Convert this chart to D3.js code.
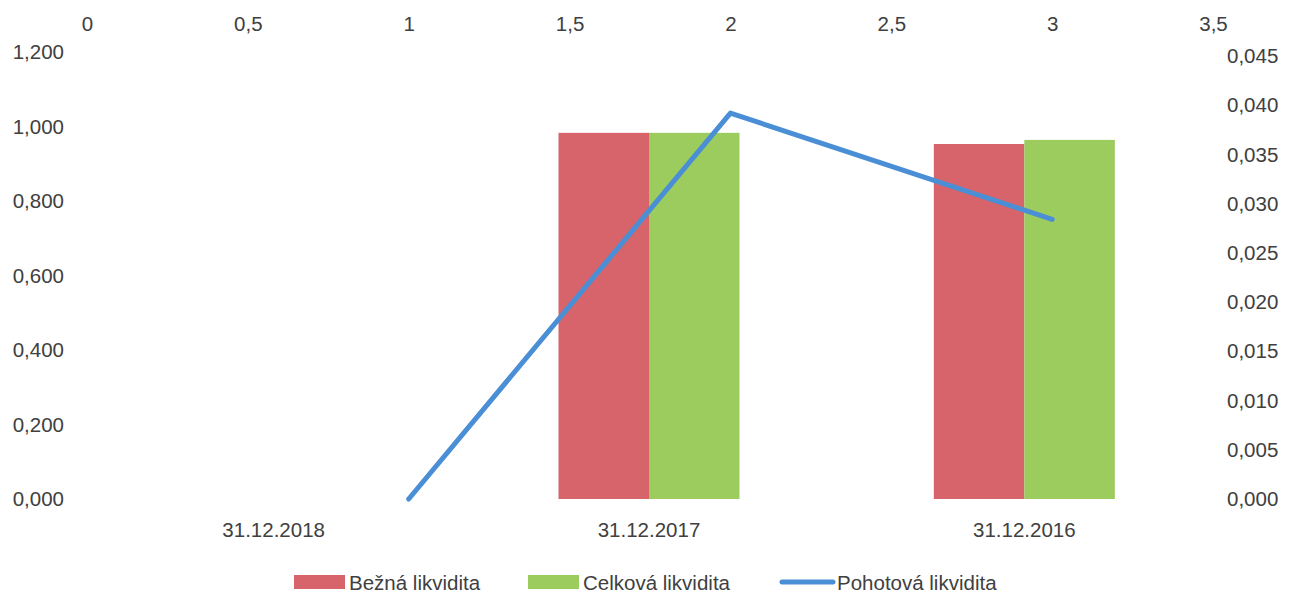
<!DOCTYPE html>
<html><head><meta charset="utf-8">
<script src="https://cdn.jsdelivr.net/npm/d3@7"></script>
<style>
html,body{margin:0;padding:0;background:#fff;}
text{font-family:"Liberation Sans","Noto Sans",sans-serif;fill:#404040;}
</style></head>
<body><svg id="chart" width="1290" height="596"></svg>
<script>
const categories = ["31.12.2018", "31.12.2017", "31.12.2016"];
const bezna = [null, 0.983, 0.953];
const celkova = [null, 0.983, 0.964];
const pohotovaX = [1, 2, 3];
const pohotovaY = [0.000, 0.0392, 0.0284];
const leftTicks = [0, 0.2, 0.4, 0.6, 0.8, 1.0, 1.2];
const rightTicks = [0, 0.005, 0.01, 0.015, 0.02, 0.025, 0.03, 0.035, 0.04, 0.045];
const topTicks = [0, 0.5, 1, 1.5, 2, 2.5, 3, 3.5];
const seriesNames = ["Bežná likvidita", "Celková likvidita", "Pohotová likvidita"];
const colors = {red: "#D6646A", green: "#9CCB5E", blue: "#4A8FD6"};

const svg = d3.select("#chart");
const X0 = 86, X1 = 1212, Y0 = 499, YT = 52;
const FS = "20.5px";

const yL = d3.scaleLinear().domain([0, 1.2]).range([Y0, YT]);
const yR = d3.scaleLinear().domain([0, 0.045]).range([Y0, YT + 4]);
const xTop = d3.scaleLinear().domain([0, 3.5]).range([X0 + 1, X1 + 1]);
const xCat = d3.scaleBand().domain(categories).range([X0, X1]).padding(0);
const sub = d3.scaleBand().domain(["b", "c"]).range([-90.5, 90.5]).padding(0);

const fmt3 = v => d3.format(".3f")(v).replace(".", ",");
const fmtTop = v => String(v).replace(".", ",");

function style(g) {
  g.select(".domain").remove();
  g.selectAll("text").style("font-size", FS).attr("fill", "#404040").attr("font-family", null);
}

// left axis
svg.append("g").attr("transform", "translate(64,0)")
  .call(d3.axisLeft(yL).tickValues(leftTicks).tickFormat(fmt3).tickSize(0).tickPadding(0)).call(style);

// right axis
svg.append("g").attr("transform", "translate(1227,0)")
  .call(d3.axisRight(yR).tickValues(rightTicks).tickFormat(fmt3).tickSize(0).tickPadding(0)).call(style);

// top axis
svg.append("g").attr("transform", "translate(0,31)")
  .call(d3.axisTop(xTop).tickValues(topTicks).tickFormat(fmtTop).tickSize(0).tickPadding(0)).call(style);

// bottom category axis
svg.append("g").attr("transform", "translate(0,522)")
  .call(d3.axisBottom(xCat).tickSize(0).tickPadding(0)).call(style);

// bars
const barData = [];
categories.forEach((c, i) => {
  if (bezna[i] != null) barData.push({c, k: "b", v: bezna[i], col: colors.red});
  if (celkova[i] != null) barData.push({c, k: "c", v: celkova[i], col: colors.green});
});
svg.append("g").selectAll("rect").data(barData).join("rect")
  .attr("x", d => xCat(d.c) + xCat.bandwidth() / 2 + sub(d.k))
  .attr("width", sub.bandwidth())
  .attr("y", d => yL(d.v))
  .attr("height", d => yL(0) - yL(d.v))
  .attr("fill", d => d.col);

// line
const linePts = pohotovaX.map((x, i) => [x, pohotovaY[i]]);
svg.append("path").datum(linePts)
  .attr("d", d3.line().x(d => xTop(d[0])).y(d => yR(d[1])))
  .attr("fill", "none").attr("stroke", colors.blue)
  .attr("stroke-width", 5).attr("stroke-linecap", "round").attr("stroke-linejoin", "round");

// legend
const leg = svg.append("g").style("font-size", FS);
const legItems = [
  {name: seriesNames[0], type: "rect", col: colors.red, x: 294},
  {name: seriesNames[1], type: "rect", col: colors.green, x: 528},
  {name: seriesNames[2], type: "line", col: colors.blue, x: 780}
];
legItems.forEach(it => {
  if (it.type === "rect") {
    leg.append("rect").attr("x", it.x).attr("y", 575).attr("width", 51).attr("height", 14).attr("fill", it.col);
  } else {
    leg.append("line").attr("x1", it.x + 2).attr("x2", it.x + 53).attr("y1", 582).attr("y2", 582)
      .attr("stroke", it.col).attr("stroke-width", 5).attr("stroke-linecap", "round");
  }
  leg.append("text").attr("x", it.x + (it.type === "rect" ? 55 : 57)).attr("y", 582)
    .attr("dominant-baseline", "central").text(it.name);
});
</script></body></html>
